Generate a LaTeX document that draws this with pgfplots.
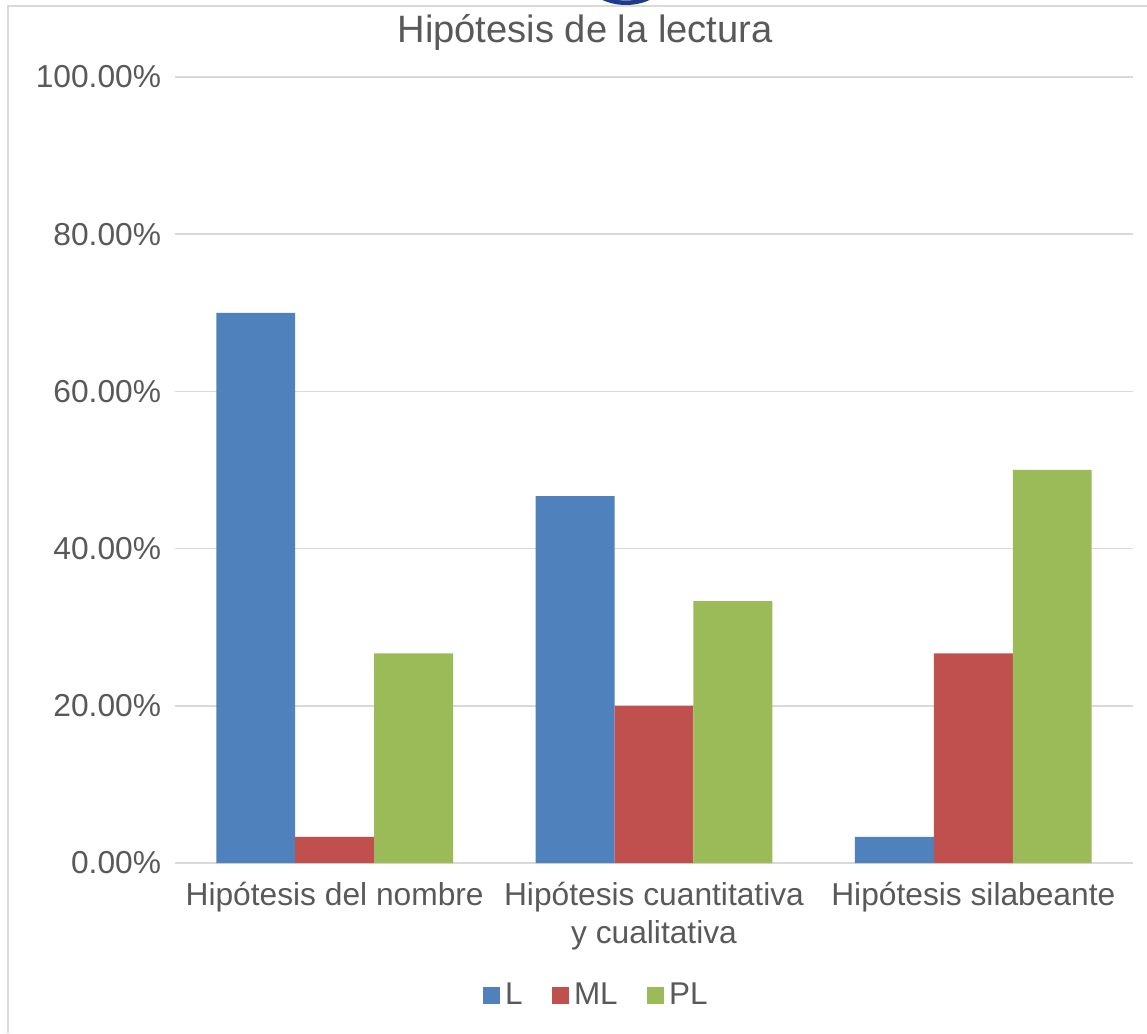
\documentclass[border=0pt]{standalone}
\usepackage{pgfplots}
\pgfplotsset{compat=1.18}
\usepackage{fontspec}
\setmainfont{Liberation Sans}

\definecolor{cL}{HTML}{4F81BD}
\definecolor{cML}{HTML}{C0504D}
\definecolor{cPL}{HTML}{9BBB59}
\definecolor{txt}{HTML}{595959}
\definecolor{gridc}{HTML}{D9D9D9}
\definecolor{logo}{HTML}{1F3A8A}

\begin{document}
\begin{tikzpicture}
\useasboundingbox (0,0) rectangle (430.125pt,387.375pt);
% frame of the chart area
\draw[gridc, line width=0.6pt] (3pt,0) -- (3pt,385.125pt) -- (430.125pt,385.125pt);
% piece of a logo cut off at the top
\begin{scope}
  \clip (0,0) rectangle (430.125pt,387.375pt);
  \fill[logo] (234.75pt,396pt) ellipse (15.5pt and 10.5pt);
  \fill[white] (234.75pt,396pt) ellipse (12.8pt and 8.8pt);
\end{scope}
\node[text=txt, font=\fontsize{14.3}{17}\selectfont] at (219.4pt,375.3pt) {Hipótesis de la lectura};

\begin{axis}[
    at={(65.625pt,63.75pt)}, anchor=south west,
    scale only axis,
    width=359.25pt, height=294.75pt,
    ybar=0pt, bar width=29.6pt,
    xmin=-0.5, xmax=2.5,
    ymin=0, ymax=100,
    xtick={0,1,2},
    xticklabels={Hipótesis del nombre, {Hipótesis cuantitativa\\y cualitativa}, Hipótesis silabeante},
    ytick={0,20,40,60,80,100},
    yticklabel={\pgfmathprintnumber[fixed,fixed zerofill,precision=2]{\tick}\%},
    /pgf/number format/assume math mode=true,
    ymajorgrids, grid style={gridc, line width=0.6pt},
    axis line style={draw=none},
    major tick length=0pt,
    tick label style={text=txt, font=\fontsize{11.9}{14.25}\selectfont},
    xticklabel style={align=center, anchor=north, yshift=-3.6pt},
    yticklabel style={anchor=east, xshift=-1.7pt},
    legend columns=3,
    legend style={at={(0.4415,-0.169)}, anchor=center, draw=none, fill=none,
        font=\fontsize{11.8}{14}\selectfont, text=txt,
        /tikz/every even column/.append style={column sep=9pt}},
    legend image code/.code={\fill[#1] (0pt,-3pt) rectangle (6.3pt,3.3pt);},
]
\addplot[fill=cL, draw=none] coordinates {(0,70.00) (1,46.67) (2,3.33)};
\addplot[fill=cML, draw=none] coordinates {(0,3.33) (1,20.00) (2,26.67)};
\addplot[fill=cPL, draw=none] coordinates {(0,26.67) (1,33.33) (2,50.00)};
\legend{L, ML, PL}
\end{axis}
\end{tikzpicture}
\end{document}
